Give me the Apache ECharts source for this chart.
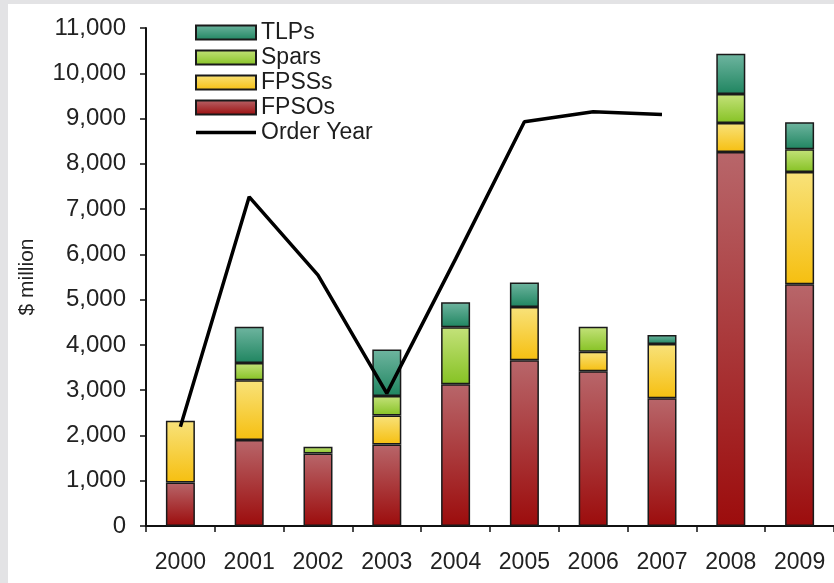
<!DOCTYPE html>
<html>
<head>
<meta charset="utf-8">
<script src="https://cdn.jsdelivr.net/npm/echarts@6/dist/echarts.min.js"></script>
<style>
html,body{margin:0;padding:0;background:#e3e3e5;}
#bg{position:absolute;left:8px;top:4px;width:826px;height:579px;background:#fff;}
#chart{position:absolute;left:0;top:0;width:834px;height:583px;}
</style>
</head>
<body>
<div id="bg"></div>
<div id="chart"></div>
<script>
const categories = ['2000','2001','2002','2003','2004','2005','2006','2007','2008','2009'];
const fpsos = [960, 1900, 1600, 1800, 3130, 3660, 3420, 2820, 8260, 5340];
const fpsss = [1365, 1320, null, 640, null, 1180, 430, 1200, 640, 2480];
const spars = [null, 380, 150, 430, 1260, null, 550, null, 640, 500];
const tlps = [null, 800, null, 1030, 550, 540, null, 200, 890, 600];
const orderYear = [2190, 7270, 5540, 2930, 5900, 8930, 9150, 9090, null, null];
const yTicks = { min: 0, max: 11000, interval: 1000 };

const FONT = "'Liberation Sans', Arial, sans-serif";
function grad(top, bottom) {
  return new echarts.graphic.LinearGradient(0, 0, 0, 1, [
    { offset: 0, color: top }, { offset: 1, color: bottom }
  ]);
}
function barSeries(name, data, top, bottom) {
  return {
    name: name, type: 'bar', stack: 'total', data: data, barWidth: 29,
    itemStyle: { color: grad(top, bottom), borderColor: '#1a1a1a', borderWidth: 1.5 },
    emphasis: { disabled: true }
  };
}
const chart = echarts.init(document.getElementById('chart'));
chart.setOption({
  animation: false,
  backgroundColor: 'transparent',
  textStyle: { fontFamily: FONT },
  grid: { left: 146, top: 28, bottom: 57, right: -10, containLabel: false },
  legend: {
    orient: 'vertical', left: 190, top: 16,
    itemWidth: 60, itemHeight: 14, itemGap: 2, symbolKeepAspect: true,
    textStyle: { fontFamily: FONT, fontSize: 23, color: '#1e1e1e', lineHeight: 23 },
    data: [
      { name: 'TLPs', icon: 'rect' },
      { name: 'Spars', icon: 'rect' },
      { name: 'FPSSs', icon: 'rect' },
      { name: 'FPSOs', icon: 'rect' },
      { name: 'Order Year', icon: 'path://M0,0 L60,0 L60,3.5 L0,3.5 Z' }
    ]
  },
  xAxis: {
    type: 'category', data: categories,
    axisLine: { lineStyle: { color: '#111', width: 2 } },
    axisTick: { show: true, length: 6, lineStyle: { color: '#111', width: 1.5 } },
    axisLabel: { fontFamily: FONT, fontSize: 23, color: '#222', margin: 25 },
    splitLine: { show: false }
  },
  yAxis: {
    type: 'value', min: yTicks.min, max: yTicks.max, interval: yTicks.interval,
    name: '$ million', nameLocation: 'middle', nameGap: 108,
    nameTextStyle: { fontFamily: FONT, fontSize: 21, color: '#222' },
    axisLine: { show: true, lineStyle: { color: '#111', width: 2 } },
    axisTick: { show: true, length: 6, lineStyle: { color: '#111', width: 1.5 } },
    axisLabel: { fontFamily: FONT, fontSize: 24, color: '#222', margin: 20,
      formatter: v => v.toLocaleString('en-US') },
    splitLine: { show: false }
  },
  series: [
    barSeries('FPSOs', fpsos, '#b8666a', '#9c0c0c'),
    barSeries('FPSSs', fpsss, '#f8e27a', '#f6bf10'),
    barSeries('Spars', spars, '#c4e27a', '#86c224'),
    barSeries('TLPs', tlps, '#6fb5a0', '#1f8560'),
    {
      name: 'Order Year', type: 'line', data: orderYear, symbol: 'none', z: 5,
      lineStyle: { color: '#000', width: 3.5 }, itemStyle: { color: '#000' },
      emphasis: { disabled: true }
    }
  ]
});
</script>
</body>
</html>
